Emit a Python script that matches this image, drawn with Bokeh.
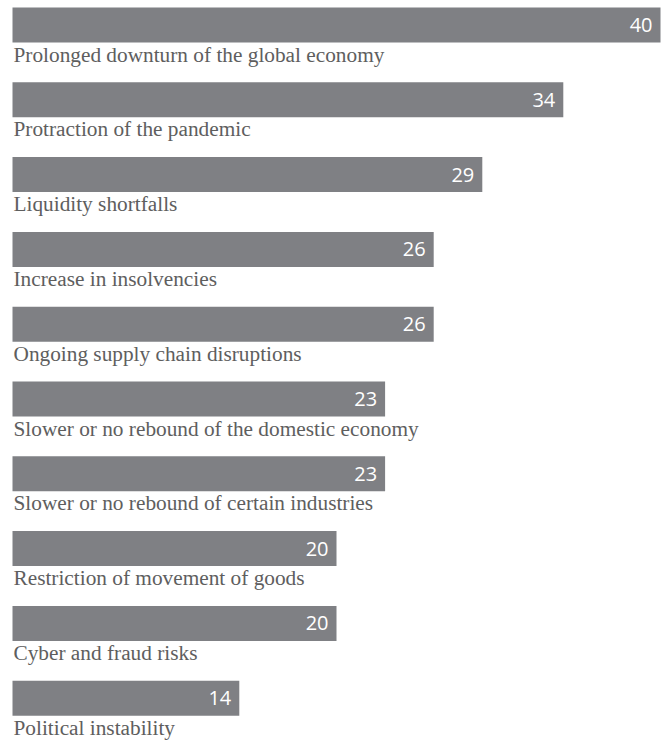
from bokeh.plotting import figure
from bokeh.models import Range1d, ColumnDataSource
from bokeh.core.properties import value
from bokeh.embed import file_html
from bokeh.resources import INLINE

categories = [
    "Prolonged downturn of the global economy",
    "Protraction of the pandemic",
    "Liquidity shortfalls",
    "Increase in insolvencies",
    "Ongoing supply chain disruptions",
    "Slower or no rebound of the domestic economy",
    "Slower or no rebound of certain industries",
    "Restriction of movement of goods",
    "Cyber and fraud risks",
    "Political instability",
]
values = [40, 34, 29, 26, 26, 23, 23, 20, 20, 14]

W, H = 664, 740
left_px = 12.0
px_per_unit = 16.2
row_px = 74.8
bar_px = 35.0
first_center_px = 7 + bar_px / 2

idx = list(range(len(categories)))
src = ColumnDataSource(dict(
    y=idx,
    v=values,
    lab=[str(v) for v in values],
    cat=categories,
    ly=[i + (47 - bar_px / 2) / row_px for i in idx],
    lx=[0 for _ in idx],
))

x0 = -left_px / px_per_unit
x1 = (W - left_px) / px_per_unit
y_top = -first_center_px / row_px
y_bot = (H - first_center_px) / row_px

p = figure(width=W, height=H, output_backend="svg", toolbar_location=None,
           x_range=Range1d(x0, x1), y_range=Range1d(y_bot, y_top),
           min_border=0, min_border_left=0, min_border_right=0,
           min_border_top=0, min_border_bottom=0)
p.axis.visible = False
p.grid.visible = False
p.outline_line_color = None
p.background_fill_color = "white"
p.border_fill_color = "white"

p.hbar(y="y", left=0, right="v", height=bar_px / row_px, source=src,
       fill_color="#7f8084", line_color=None)

p.text(x="v", y="y", text="lab", source=src, x_offset=-8, y_offset=0,
       text_align="right", text_baseline="middle",
       text_font=value("Open Sans"), text_font_size="20px", text_color="#ffffff")

p.text(x="lx", y="ly", text="cat", source=src, x_offset=1,
       text_align="left", text_baseline="alphabetic",
       text_font=value("Liberation Serif"), text_font_size="21.3px", text_color="#5e5e5e")

open("out.html", "w").write(file_html(p, INLINE))
